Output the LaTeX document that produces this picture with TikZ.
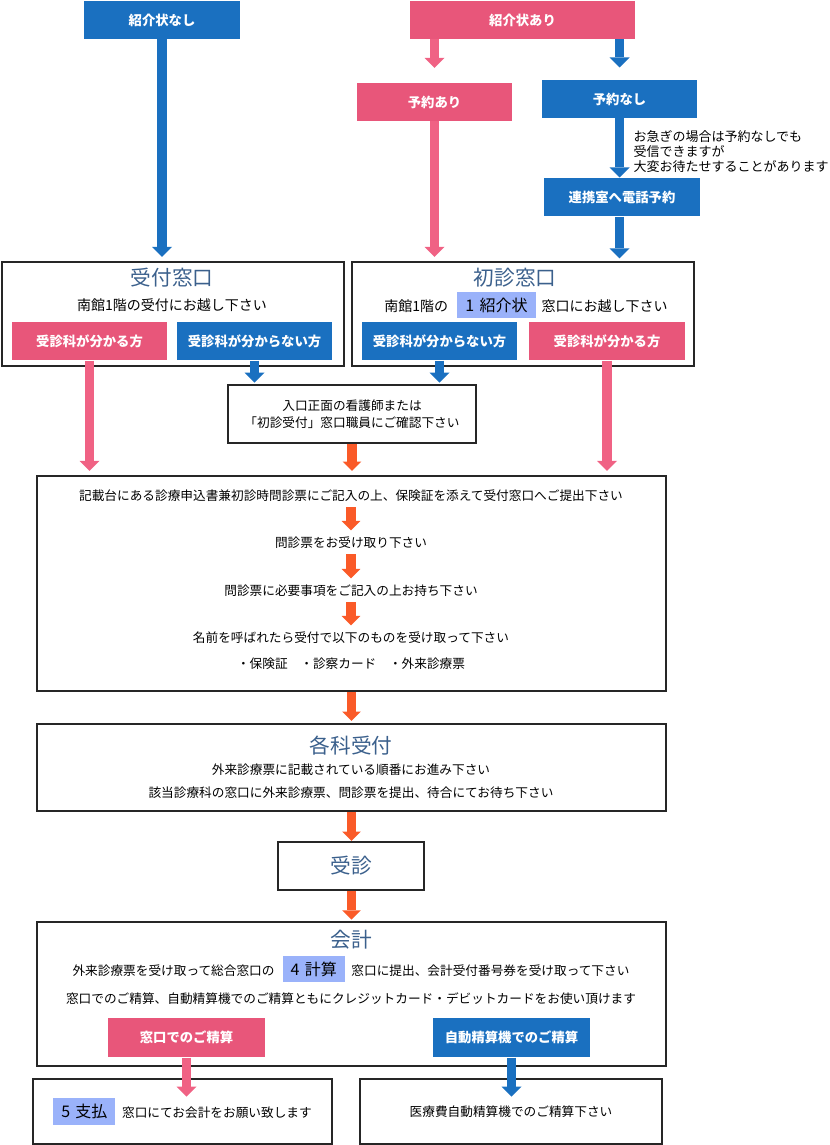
\documentclass[tikz,border=0pt]{standalone}
\usepackage{fontspec}
\setmainfont{Noto Sans CJK JP}
\usetikzlibrary{arrows.meta,fit}

\definecolor{flowblue}{RGB}{26,112,192}
\definecolor{flowpink}{RGB}{232,86,122}
\definecolor{arrowpink}{RGB}{240,98,132}
\definecolor{floworange}{RGB}{250,90,40}
\definecolor{titleblue}{RGB}{59,96,140}
\definecolor{hlblue}{RGB}{154,178,250}

\newcommand{\hlbox}[1]{{\setlength{\fboxsep}{0pt}\colorbox{hlblue}{\rule[-5.5pt]{0pt}{20pt}\hspace{6pt}\fontsize{12}{14}\selectfont #1\hspace{6pt}}}}

\tikzset{every picture/.style={line width=0.75pt}}
\tikzset{
  framebox/.style={draw=black!85, line width=1.6pt, inner sep=0pt},
  bluebox/.style={fill=flowblue, inner sep=0pt},
  pinkbox/.style={fill=flowpink, inner sep=0pt},
  boxlabel/.style={text=white, inner sep=0pt, font=\fontsize{10}{12}\selectfont\bfseries},
  titletext/.style={text=titleblue, inner sep=0.75pt, font=\fontsize{15.5}{18}\selectfont},
  subtext/.style={inner sep=0.75pt, font=\fontsize{10.5}{12.5}\selectfont},
  bodytext/.style={inner sep=0.75pt, font=\fontsize{9.5}{12.75}\selectfont},
  notetext/.style={inner sep=0pt, font=\fontsize{9.75}{11.25}\selectfont},
  bluearrow/.style={draw=flowblue, line width=7pt, -{Triangle[width=15pt,length=7.5pt,line width=0pt]}},
  pinkarrow/.style={draw=arrowpink, line width=7pt, -{Triangle[width=15pt,length=7.5pt,line width=0pt]}},
  orangearrow/.style={draw=floworange, line width=7pt, -{Triangle[width=14pt,length=7pt,line width=0pt]}}
}

\begin{document}
\begin{tikzpicture}[x=0.75pt,y=0.75pt,yscale=-1,xscale=1]
\useasboundingbox (0,0) rectangle (829,1145);

%Shape: Rectangle [start]
\node (nashi) [bluebox, fit={(84,1) (240,39)}, label={[boxlabel]center:紹介状なし}] {};
\node (ari) [pinkbox, fit={(410,1) (635,39)}, label={[boxlabel]center:紹介状あり}] {};
\node (yari) [pinkbox, fit={(357,83) (512,121)}, label={[boxlabel]center:予約あり}] {};
\node (ynashi) [bluebox, fit={(542,80) (697,118)}, label={[boxlabel]center:予約なし}] {};
\node (renkei) [bluebox, fit={(544,178) (700,216)}, label={[boxlabel]center:連携室へ電話予約}] {};
% Text Node
\node (note) [notetext, anchor=north west, align=left] at (633,130) {お急ぎの場合は予約なしでも\\受信できますが\\大変お待たせすることがあります};

%Shape: Rectangle [windows]
\node (uketsuke) [framebox, fit={(2,262) (344,366)}] {};
\node (shoshin) [framebox, fit={(352,262) (694,366)}] {};
% Text Node
\node (uketsuketitle) [titletext] at (172,278) {受付窓口};
\node (uketsukesub) [subtext] at (172,305) {南館1階の受付にお越し下さい};
\node (shoshintitle) [titletext] at (515,278) {初診窓口};
\node (shoshinsub) [subtext] at (526,305) {南館1階の\hspace{7pt}\hlbox{1\hspace{4pt}紹介状}\hspace{4.5pt}窓口にお越し下さい};
\node (pk1) [pinkbox, fit={(12,322) (167,360)}, label={[boxlabel]center:受診科が分かる方}] {};
\node (bl1) [bluebox, fit={(177,322) (332,360)}, label={[boxlabel]center:受診科が分からない方}] {};
\node (bl2) [bluebox, fit={(362,322) (517,360)}, label={[boxlabel]center:受診科が分からない方}] {};
\node (pk2) [pinkbox, fit={(529,322) (685,360)}, label={[boxlabel]center:受診科が分かる方}] {};

\node (iriguchi) [framebox, fit={(228,385) (476,443)}, label={[bodytext, align=center]center:入口正面の看護師または\\「初診受付」窓口職員にご確認下さい}] {};

%Shape: Rectangle [entry sheet]
\node (kisai) [framebox, fit={(37,476) (666,691)}] {};
\node (k1) [bodytext] at (351,496) {記載台にある診療申込書兼初診時問診票にご記入の上、保険証を添えて受付窓口へご提出下さい};
\node (k2) [bodytext] at (351,543) {問診票をお受け取り下さい};
\node (k3) [bodytext] at (351,591) {問診票に必要事項をご記入の上お持ち下さい};
\node (k4) [bodytext] at (351,638) {名前を呼ばれたら受付で以下のものを受け取って下さい};
\node (k5) [bodytext] at (351,664) {・保険証　・診察カード　・外来診療票};

%Shape: Rectangle [department]
\node (kakka) [framebox, fit={(37,724) (666,811)}] {};
\node (kakkatitle) [titletext] at (351,746) {各科受付};
\node (kakka1) [bodytext] at (351,770) {外来診療票に記載されている順番にお進み下さい};
\node (kakka2) [bodytext] at (351,793) {該当診療科の窓口に外来診療票、問診票を提出、待合にてお待ち下さい};

\node (jushin) [framebox, fit={(278,842) (424,890)}, label={[titletext]center:受診}] {};

%Shape: Rectangle [payment]
\node (kaikei) [framebox, fit={(37,922) (666,1066)}] {};
\node (kaikeititle) [titletext] at (351,940) {会計};
\node (kaikei1) [bodytext] at (351,969) {外来診療票を受け取って総合窓口の\hspace{6pt}\hlbox{4\hspace{4pt}計算}\hspace{5pt}窓口に提出、会計受付番号券を受け取って下さい};
\node (kaikei2) [bodytext] at (351,999) {窓口でのご精算、自動精算機でのご精算ともにクレジットカード・デビットカードをお使い頂けます};
\node (pk3) [pinkbox, fit={(108,1018) (265,1057)}, label={[boxlabel]center:窓口でのご精算}] {};
\node (bl3) [bluebox, fit={(433,1018) (590,1057)}, label={[boxlabel]center:自動精算機でのご精算}] {};

\node (pay1) [framebox, fit={(33,1079) (332,1144)}, label={[bodytext]center:\hlbox{5\hspace{4pt}支払}\hspace{5pt}窓口にてお会計をお願い致します}] {};
\node (pay2) [framebox, fit={(360,1079) (662,1144)}, label={[bodytext]center:医療費自動精算機でのご精算下さい}] {};

%Straight Lines [arrows]
\draw[bluearrow, shorten >=3pt] (nashi.south) -- (nashi.south |- uketsuke.north);
\draw[pinkarrow, shorten >=11pt] (ari.south -| yari.north) -- (yari.north);
\draw[bluearrow, shorten >=9pt] (ari.south -| ynashi.north) -- (ynashi.north);
\draw[pinkarrow, shorten >=3pt] (yari.south) -- (yari.south |- shoshin.north);
\draw[bluearrow] (ynashi.south) -- (renkei.north -| ynashi.south);
\draw[bluearrow, shorten >=2pt] (renkei.south -| ynashi.south) -- (ynashi.south |- shoshin.north);

\draw[pinkarrow, shorten >=3pt] (pk1.south) -- (pk1.south |- kisai.north);
\draw[bluearrow, shorten >=1pt] (bl1.south) -- (bl1.south |- iriguchi.north);
\draw[bluearrow, shorten >=1pt] (bl2.south) -- (bl2.south |- iriguchi.north);
\draw[pinkarrow, shorten >=3pt] (pk2.south) -- (pk2.south |- kisai.north);
\draw[orangearrow, shorten >=3pt] (iriguchi.south) -- (iriguchi.south |- kisai.north);

\draw[orangearrow, shorten <=3pt, shorten >=4pt] (k1) -- (k2);
\draw[orangearrow, shorten <=3pt, shorten >=4pt] (k2) -- (k3);
\draw[orangearrow, shorten <=3pt, shorten >=4pt] (k3) -- (k4);

\draw[orangearrow, shorten >=1.5pt] (kisai.south) -- (kisai.south |- kakka.north);
\draw[orangearrow] (kakka.south) -- (kakka.south |- jushin.north);
\draw[orangearrow, shorten >=1pt] (kakka.south |- jushin.south) -- (kakka.south |- kaikei.north);

\draw[pinkarrow, shorten >=-14pt] (pk3.south) -- (pk3.south |- pay1.north);
\draw[bluearrow, shorten >=-14pt] (bl3.south) -- (bl3.south |- pay2.north);
\end{tikzpicture}
\end{document}
